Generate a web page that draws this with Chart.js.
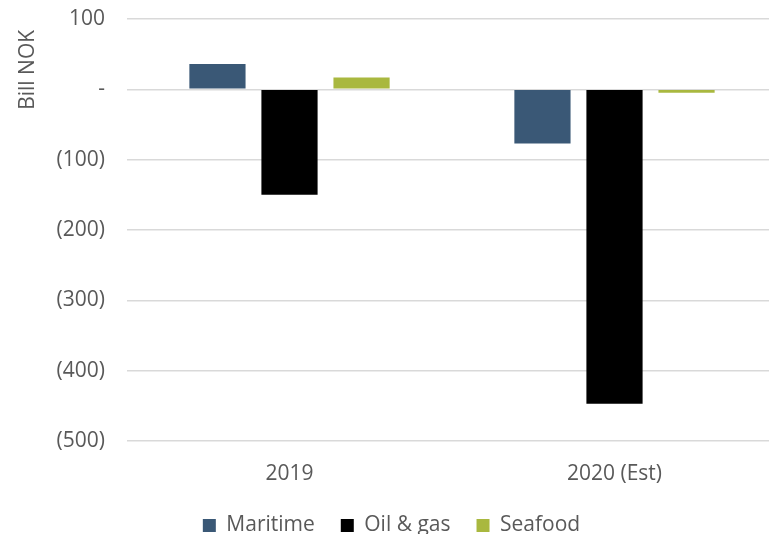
<!DOCTYPE html>
<html>
<head>
<meta charset="utf-8">
<script src="https://cdn.jsdelivr.net/npm/chart.js@4/dist/chart.umd.min.js"></script>
<style>
  html, body { margin: 0; padding: 0; background: #fff; overflow: hidden; }
  #wrap { width: 769px; height: 536px; overflow: hidden; }
  #inner { width: 780px; height: 536px; position: relative; }
</style>
</head>
<body>
<div id="wrap"><div id="inner"><canvas id="chart"></canvas></div></div>
<script>
// Chart data
const categories = ['2019', '2020 (Est)'];
const maritime = [36, -77];
const oilGas = [-150, -447];
const seafood = [17, -5];
const yTicks = [100, 0, -100, -200, -300, -400, -500];

const FONT = "'Open Sans', sans-serif";
const GREY = '#595959';

function formatTick(value) {
    if (value === 0) return '-';
    if (value < 0) return '(' + (-value) + ')';
    return String(value);
}

// nudge the legend a bit from where Chart.js puts it
const legendShift = {
    id: 'legendShift',
    afterLayout(chart) {
        const lg = chart.legend;
        if (!lg) return;
        lg.top -= 2;
        lg.bottom -= 2;
    }
};

document.addEventListener('DOMContentLoaded', function() {
    const ctx = document.getElementById('chart');

    new Chart(ctx, {
        type: 'bar',
        data: {
            labels: categories,
            datasets: [
                { label: 'Maritime', data: maritime, backgroundColor: '#3a5876' },
                { label: 'Oil & gas', data: oilGas, backgroundColor: '#000000' },
                { label: 'Seafood', data: seafood, backgroundColor: '#a9b83f' }
            ]
        },
        plugins: [legendShift],
        options: {
            responsive: true,
            maintainAspectRatio: false,
            animation: false,
            datasets: {
                bar: { categoryPercentage: 0.665, barPercentage: 0.78 }
            },
            layout: { padding: { left: 6, right: 3, top: 0, bottom: 0 } },
            plugins: {
                tooltip: { enabled: false },
                legend: {
                    position: 'bottom',
                    maxHeight: 45,
                    labels: {
                        color: GREY,
                        font: { family: FONT, size: 21 },
                        boxWidth: 13,
                        boxHeight: 13,
                        padding: 26
                    }
                }
            },
            scales: {
                x: {
                    grid: { display: false },
                    border: { display: false },
                    afterFit: axis => { axis.height = 50; },
                    ticks: { color: GREY, font: { family: FONT, size: 21 }, padding: 12 }
                },
                y: {
                    min: -500,
                    max: 100,
                    afterBuildTicks: axis => {
                        axis.ticks = yTicks.map(v => ({ value: v }));
                    },
                    afterFit: axis => {
                        axis.width = 121;
                        axis.paddingTop = 19;
                        axis.paddingBottom = 14;
                    },
                    grid: { color: '#d9d9d9', lineWidth: 1.5, drawTicks: false },
                    border: { display: false },
                    ticks: {
                        color: GREY,
                        font: { family: FONT, size: 21 },
                        padding: 22,
                        callback: value => formatTick(value)
                    },
                    title: {
                        display: true,
                        text: 'Bill NOK  ',
                        align: 'end',
                        color: GREY,
                        font: { family: FONT, size: 21 },
                        padding: { top: 9, bottom: 5 }
                    }
                }
            }
        }
    });
});
</script>
</body>
</html>
